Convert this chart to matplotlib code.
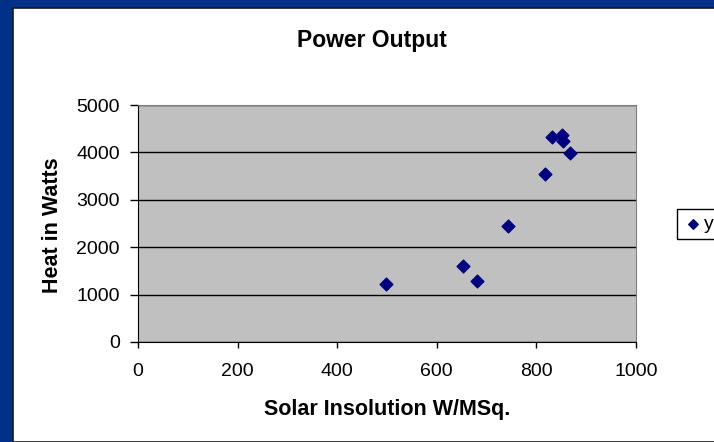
import matplotlib.pyplot as plt
import matplotlib.patches as patches

# readings taken off the chart
solar = [498, 652, 681, 743, 817, 831, 851, 854, 867]
heat = [1224, 1603, 1293, 2447, 3544, 4325, 4374, 4247, 3994]
x_ticks = [0, 200, 400, 600, 800, 1000]
y_ticks = [0, 1000, 2000, 3000, 4000, 5000]

plt.rcParams['font.family'] = ['Liberation Sans', 'DejaVu Sans']

W, H = 714, 442
fig = plt.figure(figsize=(W / 100, H / 100), dpi=100)
fig.patch.set_facecolor('#003088')

# white chart area inside the blue slide frame
fig.add_artist(patches.Rectangle((13 / W, 0), 1, 1 - 8 / H, transform=fig.transFigure,
                                 facecolor='white', edgecolor='#1a1a1a', linewidth=1.2,
                                 zorder=-1))

ax = fig.add_axes([138 / W, 1 - 342 / H, (636 - 138) / W, (342 - 105) / H])
ax.set_facecolor('#c0c0c0')
ax.scatter(solar, heat, marker='D', s=42, color='#000080', zorder=3, label='y')

ax.set_xlim(0, 1000)
ax.set_ylim(0, 5000)
ax.set_xticks(x_ticks)
ax.set_yticks(y_ticks)
ax.tick_params(labelsize=14, width=1, direction='out', color='black')
ax.tick_params(axis='x', length=4, pad=11)
ax.tick_params(axis='y', length=6, pad=7)
ax.grid(axis='y', color='black', linewidth=1)
ax.set_axisbelow(True)
for side in ['top', 'right']:
    ax.spines[side].set_color('#808080')
ax.spines['left'].set_color('black')
ax.spines['bottom'].set_color('black')

ax.set_xlabel('Solar Insolution W/MSq.', fontsize=15.5, fontweight='bold', va='center')
ax.xaxis.set_label_coords((387 - 138) / 498, (342 - 410) / 237)
ax.set_ylabel('Heat in Watts', fontsize=15.5, fontweight='bold', va='center')
ax.yaxis.set_label_coords((53 - 138) / 498, (342 - 225) / 237)
fig.text(372 / W, 1 - 40 / H, 'Power Output', fontsize=16.5, fontweight='bold',
         ha='center', va='center')

leg = fig.legend(loc='center left', bbox_to_anchor=(677 / W, 1 - 224 / H),
                 fontsize=14, fancybox=False, edgecolor='black', framealpha=1,
                 markerscale=0.75, handletextpad=0.1, borderpad=0.3, handlelength=1.0,
                 borderaxespad=0)
leg.get_frame().set_linewidth(1)

fig.savefig('out.png', dpi=100, facecolor=fig.get_facecolor())
